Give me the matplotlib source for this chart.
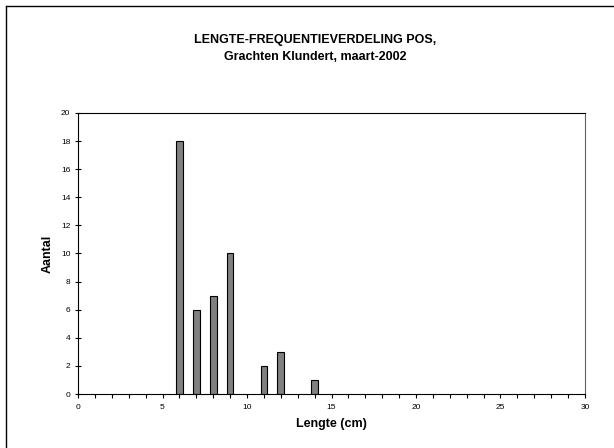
import numpy as np
import matplotlib.pyplot as plt
from matplotlib.lines import Line2D

plt.rcParams['font.family'] = ['Liberation Sans', 'DejaVu Sans']

# lengths (cm) and counts
lengte = [6, 7, 8, 9, 11, 12, 14]
aantal = [18, 6, 7, 10, 2, 3, 1]

fig = plt.figure(figsize=(6.14, 4.48), dpi=100)
ax = fig.add_axes([78/614, 1-394/448, (585-78)/614, (394-113)/448])

ax.bar(lengte, aantal, width=0.4, color='#808080', edgecolor='black', linewidth=0.8)

ax.set_xlim(0, 30)
ax.set_ylim(0, 20)
ax.set_xticks(np.arange(0, 31, 5))
ax.set_xticks(np.arange(0, 31, 1), minor=True)
ax.set_yticks(np.arange(0, 21, 2))
ax.tick_params(axis='x', which='both', direction='out', length=3, width=0.8, labelsize=6, pad=4)
ax.tick_params(axis='y', direction='inout', length=5, width=0.8, labelsize=6, pad=3)
for s in ax.spines.values():
    s.set_linewidth(0.8)
ax.spines['right'].set_color('#606060')

ax.set_xlabel('Lengte (cm)', fontsize=9, fontweight='bold', labelpad=5)
ax.set_ylabel('Aantal', fontsize=9, fontweight='bold', labelpad=5)

fig.text(315/614, 1-40/448, 'LENGTE-FREQUENTIEVERDELING POS,', ha='center', va='center',
         fontsize=9, fontweight='bold')
fig.text(315/614, 1-56.5/448, 'Grachten Klundert, maart-2002', ha='center', va='center',
         fontsize=9, fontweight='bold')

# outer chart border (only left and top visible)
fig.add_artist(Line2D([6/614, 6/614], [0, 1-6/448], color='black', lw=1, transform=fig.transFigure))
fig.add_artist(Line2D([6/614, 1], [1-6/448, 1-6/448], color='black', lw=1, transform=fig.transFigure))

fig.savefig('out.png', dpi=100)
